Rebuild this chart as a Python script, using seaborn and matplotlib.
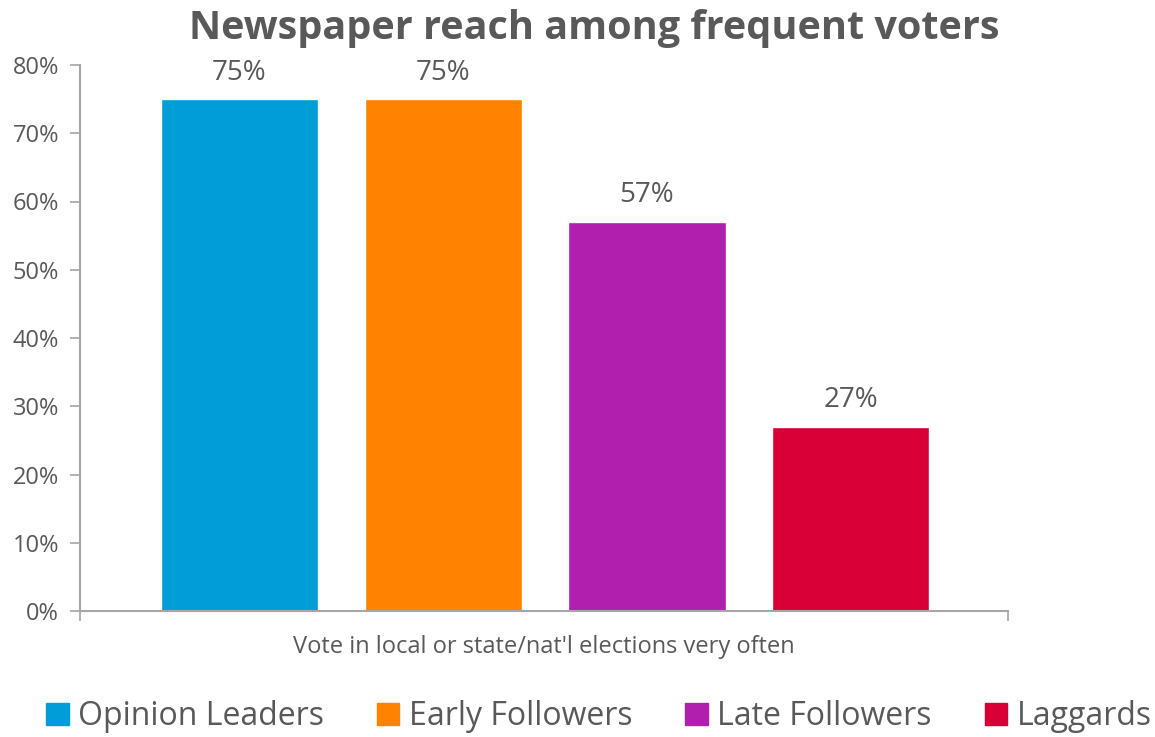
import matplotlib
matplotlib.use("Agg")
import matplotlib.pyplot as plt
import seaborn as sns
import pandas as pd
from matplotlib.ticker import PercentFormatter

# Newspaper reach by voter segment (share of frequent voters)
segments = ["Opinion Leaders", "Early Followers", "Late Followers", "Laggards"]
reach = [75, 75, 57, 27]
colors = ["#009DD9", "#FF8200", "#B01FAD", "#D80036"]
category_label = "Vote in local or state/nat'l elections very often"
title = "Newspaper reach among frequent voters"
y_ticks = [0, 10, 20, 30, 40, 50, 60, 70, 80]

sns.set_theme(style="white")
plt.rcParams["font.family"] = ["Open Sans", "DejaVu Sans"]

TEXT = "#595959"
AXIS = "#A6A6A6"

df = pd.DataFrame({"segment": segments, "reach": reach})

fig = plt.figure(figsize=(11.55, 7.37), dpi=100)
ax = fig.add_axes([80 / 1155, 1 - 611 / 737, 928 / 1155, 546 / 737])

sns.barplot(data=df, x="segment", y="reach", hue="segment",
            palette=dict(zip(segments, colors)), order=segments,
            hue_order=segments, width=0.77, saturation=1, dodge=False,
            legend=False, ax=ax)

for cont in ax.containers:
    ax.bar_label(cont, labels=[f"{v:.0f}%" for v in cont.datavalues],
                 padding=9, fontsize=20, color=TEXT)

xmin, xmax = -0.78, 3.77
ax.set_xlim(xmin, xmax)
ax.set_ylim(0, 80)
ax.set_yticks(y_ticks)
ax.yaxis.set_major_formatter(PercentFormatter(decimals=0))
ax.set_xticks([xmin, xmax])
ax.set_xticklabels(["", ""])
ax.tick_params(axis="x", direction="out", length=7, width=1.2, color=AXIS, bottom=True)
ax.tick_params(axis="y", direction="out", length=7, width=1.2, color=AXIS,
               left=True, labelsize=17, labelcolor=TEXT, pad=8)
ax.set_xlabel(category_label, fontsize=17, color=TEXT, labelpad=7)
ax.set_ylabel("")

for side in ["top", "right"]:
    ax.spines[side].set_visible(False)
for side in ["left", "bottom"]:
    ax.spines[side].set_color(AXIS)
    ax.spines[side].set_linewidth(1.5)

fig.suptitle(title, x=594 / 1155, y=1 - 9 / 737, va="top",
             fontsize=28.5, fontweight="bold", color=TEXT)

handles = [plt.Rectangle((0, 0), 1, 1, color=c) for c in colors]
leg = fig.legend(handles, segments, loc="lower center", ncol=4,
                 bbox_to_anchor=(599 / 1155, -0.034), frameon=False,
                 fontsize=23, handlelength=0.7, handleheight=0.7,
                 handletextpad=0.3, columnspacing=1.65)
for t in leg.get_texts():
    t.set_color(TEXT)

fig.savefig("out.png", dpi=100)
